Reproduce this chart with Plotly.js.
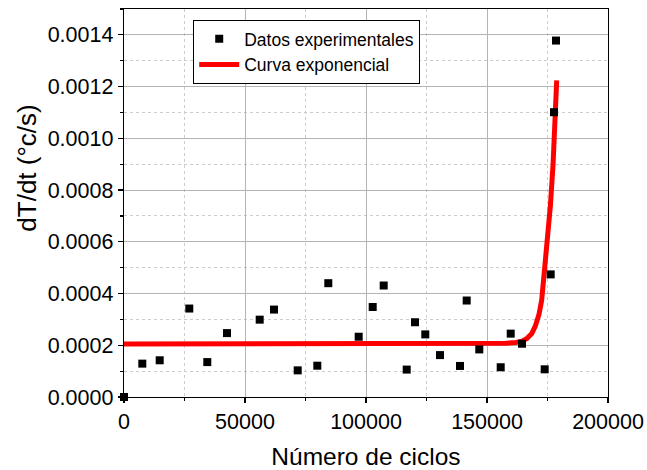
<!DOCTYPE html>
<html>
<head>
<meta charset="utf-8">
<script src="https://cdn.plot.ly/plotly-3.0.1.min.js"></script>
<style>html,body{margin:0;padding:0;background:#fff;}#chart{width:647px;height:470px;}</style>
</head>
<body>
<div id="chart"></div>
<script>
// Experimental data
var cycles = [0, 7560, 14750, 26980, 34420, 42560, 56070, 61980, 71780, 79880, 84420, 96980, 102770, 107310, 116820, 120250, 124500, 130580, 138840, 141610, 146820, 155660, 159800, 164460, 173840, 176320, 177690, 178510];
var rates = [0, 0.000129, 0.000142, 0.000342, 0.000135, 0.000247, 0.000299, 0.000338, 0.000103, 0.000121, 0.000440, 0.000233, 0.000348, 0.000431, 0.000106, 0.000289, 0.000242, 0.000162, 0.000120, 0.000373, 0.000184, 0.000115, 0.000245, 0.000206, 0.000107, 0.000474, 0.001101, 0.001378];

// Exponential curve, values
var curveCycles = [0, 50000, 100000, 150000, 158000, 162000, 164500, 166500, 168500, 170000, 171500, 172600, 173900, 175100, 176200, 177300, 178100, 178800];
var curveRates = [0.000205, 0.000205, 0.000205, 0.000206, 0.000208, 0.000211, 0.000216, 0.000226, 0.000245, 0.000275, 0.000320, 0.000374, 0.000490, 0.000610, 0.000740, 0.000900, 0.001050, 0.001224];

var labelData = "Datos experimentales";
var labelCurve = "Curva exponencial";
var xTitle = "Número de ciclos";
var yTitle = "dT/dt (°c/s)";

var FONT = "Liberation Sans, Arial, sans-serif";

var traces = [
  {
    x: curveCycles, y: curveRates, type: "scatter", mode: "lines",
    name: labelCurve, legendrank: 2,
    line: {color: "#ff0000", width: 5},
    cliponaxis: false
  },
  {
    x: cycles, y: rates, type: "scatter", mode: "markers",
    name: labelData, legendrank: 1,
    marker: {symbol: "square", size: 8, color: "#000000"},
    cliponaxis: false
  }
];

var axisCommon = {
  showline: true, linecolor: "#000", linewidth: 1.3, mirror: true,
  ticks: "outside", ticklen: 5, tickwidth: 1.2, tickcolor: "#000",
  showgrid: true, gridcolor: "#b4b4b4", gridwidth: 1,
  zeroline: false,
  tickfont: {family: FONT, size: 21.5, color: "#000"}
};

var layout = {
  width: 647, height: 470,
  margin: {l: 124, r: 39, t: 9, b: 73},
  paper_bgcolor: "#fff", plot_bgcolor: "#fff",
  font: {family: FONT, color: "#000"},
  showlegend: true,
  legend: {
    x: 0.143, y: 0.972, xanchor: "left", yanchor: "top",
    bgcolor: "#fff", bordercolor: "#000", borderwidth: 1,
    font: {family: FONT, size: 17.5, color: "#000"},
    itemwidth: 40, tracegroupgap: 0
  },
  xaxis: Object.assign({}, axisCommon, {
    range: [0, 200000], dtick: 50000, tick0: 0, tickformat: "d",
    minor: {dtick: 25000, ticks: "outside", ticklen: 3, tickcolor: "#000", showgrid: true, gridcolor: "#cccccc", griddash: "dot", gridwidth: 1},
    title: {text: xTitle, font: {family: FONT, size: 24.5, color: "#000"}, standoff: 14}
  }),
  yaxis: Object.assign({}, axisCommon, {
    range: [0, 0.0015], dtick: 0.0002, tick0: 0, tickformat: ".4f",
    minor: {dtick: 0.0001, ticks: "outside", ticklen: 3, tickcolor: "#000", showgrid: true, gridcolor: "#cccccc", griddash: "dot", gridwidth: 1}
  }),
  annotations: [
    {
      text: yTitle, textangle: -90, showarrow: false,
      xref: "paper", yref: "paper", x: -0.2, y: 0.589,
      xanchor: "center", yanchor: "middle",
      font: {family: FONT, size: 26, color: "#000"}
    }
  ]
};

Plotly.newPlot("chart", traces, layout, {staticPlot: true, displayModeBar: false});
</script>
</body>
</html>
